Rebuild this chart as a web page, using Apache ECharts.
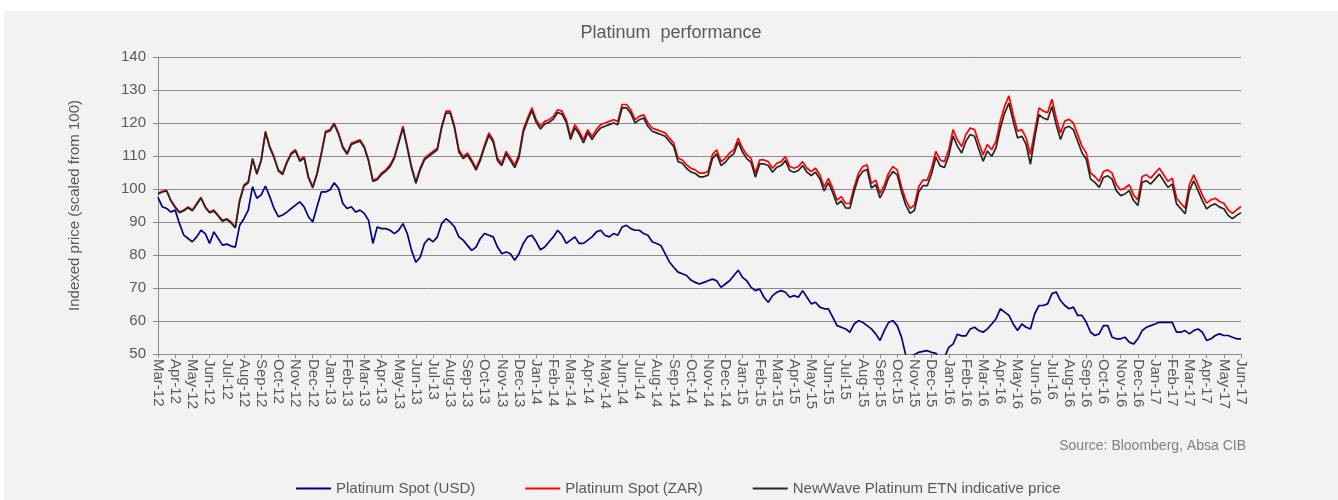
<!DOCTYPE html>
<html>
<head>
<meta charset="utf-8">
<title>Platinum performance</title>
<script src="https://cdn.jsdelivr.net/npm/echarts@6/dist/echarts.min.js"></script>
<style>
    html, body { margin: 0; padding: 0; background: #ffffff; }
    #wrap { position: relative; width: 1338px; height: 500px; overflow: hidden; }
    #chart { position: absolute; left: 4px; top: 11px; width: 1334px; height: 489px; background: #f2f2f2; }
</style>
</head>
<body>
<div id="wrap"><div id="chart"></div></div>
<script>
// month tick labels (one axis tick per month)
var months = [
    'Mar-12', 'Apr-12', 'May-12', 'Jun-12', 'Jul-12', 'Aug-12', 'Sep-12', 'Oct-12', 'Nov-12', 'Dec-12',
    'Jan-13', 'Feb-13', 'Mar-13', 'Apr-13', 'May-13', 'Jun-13', 'Jul-13', 'Aug-13', 'Sep-13', 'Oct-13', 'Nov-13', 'Dec-13',
    'Jan-14', 'Feb-14', 'Mar-14', 'Apr-14', 'May-14', 'Jun-14', 'Jul-14', 'Aug-14', 'Sep-14', 'Oct-14', 'Nov-14', 'Dec-14',
    'Jan-15', 'Feb-15', 'Mar-15', 'Apr-15', 'May-15', 'Jun-15', 'Jul-15', 'Aug-15', 'Sep-15', 'Oct-15', 'Nov-15', 'Dec-15',
    'Jan-16', 'Feb-16', 'Mar-16', 'Apr-16', 'May-16', 'Jun-16', 'Jul-16', 'Aug-16', 'Sep-16', 'Oct-16', 'Nov-16', 'Dec-16',
    'Jan-17', 'Feb-17', 'Mar-17', 'Apr-17', 'May-17', 'Jun-17'
];

// samples per month (roughly weekly)
var perMonth = 4;

// Platinum Spot (USD), indexed
var usd = [
    97.5, 94.6, 94.1, 93, 93.6, 89.5, 86, 85, 84, 85.5, 87.5, 86.5, 83.5, 87, 85, 83,
    83.3, 82.7, 82.4, 89, 91, 93.6, 100.7, 97.2, 98.2, 100.9, 97.7, 94.1, 91.6, 92.1, 93, 94.1,
    95.1, 96.1, 94.6, 91.6, 90, 94.6, 99.1, 99.1, 99.7, 101.9, 100.2, 95.6, 94.1, 94.6, 93, 93.6,
    92.6, 90.5, 83.5, 88.5, 88, 88, 87.5, 86.5, 87.5, 89.5, 86.5, 81.4, 77.8, 79.3, 83.5, 85,
    84, 85.5, 89.5, 91, 90, 88.5, 85.5, 84.5, 82.9, 81.4, 82.4, 85, 86.5, 86, 85.5, 82.4,
    80.4, 80.9, 80.4, 78.4, 80.4, 83.5, 85.5, 86, 84, 81.6, 82.4, 84, 85.5, 87.5, 86, 83.5,
    84.5, 85.5, 83.5, 83.5, 84.5, 85.5, 87, 87.5, 86, 85.5, 86.5, 86, 88.5, 89, 88, 87.5,
    87.5, 86.5, 86, 84, 83.5, 82.9, 80.4, 77.9, 76.3, 74.8, 74.3, 73.8, 72.4, 71.7, 71.2, 71.7,
    72.2, 72.7, 72.2, 70.2, 71.2, 72.2, 73.8, 75.4, 73.2, 72.2, 70.2, 69.2, 69.7, 67.2, 65.7, 67.7,
    68.7, 69.2, 68.7, 67.2, 67.7, 67.2, 69.2, 67.2, 65.2, 65.7, 64.2, 63.7, 63.7, 61.2, 58.6, 58.1,
    57.6, 56.6, 59.1, 60.1, 59.6, 58.6, 57.6, 56.1, 54.1, 57.1, 59.6, 60.1, 58.6, 55.1, 49.6, 49.3,
    49.8, 50.5, 50.8, 51, 50.5, 50.2, 48.5, 49, 52, 53, 56, 55.5, 55.5, 57.6, 58.1, 57.1,
    56.6, 57.6, 59.1, 60.7, 63.7, 62.7, 61.7, 59.1, 57.1, 59.1, 58.1, 57.6, 62.2, 64.7, 64.7, 65.2,
    68.3, 68.8, 66.2, 64.7, 63.7, 64.2, 61.7, 61.7, 59.6, 56.6, 55.6, 56.1, 58.6, 58.6, 55.1, 54.6,
    54.6, 55.1, 53.6, 53, 54.6, 57.1, 58.1, 58.6, 59.1, 59.6, 59.6, 59.6, 59.6, 56.6, 56.6, 57.1,
    56.1, 57.1, 57.6, 56.6, 54.1, 54.6, 55.6, 56.1, 55.6, 55.6, 55.1, 54.6, 54.6
];

// Platinum Spot (ZAR), indexed
var zar = [
    98.7, 99.3, 99.6, 96.6, 94.6, 93, 93.6, 94.6, 93.6, 95.6, 97.5, 94.6, 93, 93.6, 92, 90.5,
    91, 90, 88.5, 96.6, 101.2, 102.2, 109.3, 104.8, 108.8, 117.5, 112.9, 109.8, 105.8, 104.8, 108.3, 110.9,
    111.9, 108.8, 109.8, 103.8, 100.7, 104.8, 110.9, 117.5, 118, 120, 117, 112.9, 110.9, 113.9, 114.4, 114.9,
    112.9, 108.8, 102.7, 103.2, 104.8, 105.8, 107.3, 109.8, 114.4, 119, 112.9, 106.8, 102.2, 106.3, 109.3, 110.4,
    111.4, 112.4, 119, 123.6, 123.6, 119, 111.9, 109.8, 110.9, 108.8, 106.3, 109.3, 113.4, 117, 114.9, 109.3,
    107.8, 111.4, 109.3, 107.3, 110.4, 118, 121.5, 124.6, 121, 119, 120.5, 121, 122, 124, 123.6, 121,
    115.9, 119.5, 117.5, 114.9, 118, 115.9, 118, 119.5, 120, 120.5, 121, 120.5, 125.6, 125.6, 124, 121,
    122, 122.5, 120, 118.5, 118, 117.5, 117, 115.4, 113.9, 109.3, 108.8, 107.3, 106.3, 105.8, 104.8, 104.8,
    105.3, 110.4, 111.9, 108.3, 109.3, 110.9, 111.9, 115.4, 112.4, 110.4, 109.3, 104.8, 108.8, 108.8, 108.3, 106.3,
    107.8, 108.3, 109.8, 106.8, 106.3, 106.8, 108.3, 106.3, 105.3, 106.3, 104.3, 100.7, 103.2, 100.2, 96.6, 97.7,
    95.6, 95.6, 100.7, 104.8, 106.8, 107.3, 101.7, 102.7, 98.7, 101.2, 104.8, 106.8, 105.8, 100.7, 96.6, 94.1,
    95.1, 100.7, 102.7, 102.7, 106.3, 111.4, 108.8, 108.3, 111.9, 118, 114.9, 112.9, 116.5, 118.5, 118, 114,
    110.4, 113.5, 111.9, 114.5, 120.6, 125.1, 128.2, 122.6, 117.5, 118, 115.5, 110.5, 117.5, 124.6, 123.6, 123.1,
    127.2, 121.6, 117, 120.6, 121.1, 120, 116.5, 113, 110.9, 104.8, 103.8, 102.3, 105.3, 105.8, 104.8, 101.3,
    99.7, 100.3, 101.3, 98.2, 96.7, 103.8, 104.3, 103.3, 104.8, 106.3, 104.3, 102.3, 103.3, 97.2, 95.7, 94.2,
    101.3, 104.3, 101.3, 98.2, 95.7, 96.7, 97.2, 96.2, 95.7, 93.7, 92.6, 93.7, 94.7
];

// NewWave Platinum ETN indicative price, indexed
var etn = [
    98.5, 99.1, 99.4, 96.4, 94.4, 92.8, 93.4, 94.3, 93.4, 95.3, 97.2, 94.4, 92.8, 93.3, 91.8, 90.2,
    90.8, 89.7, 88.2, 96.3, 100.9, 101.9, 109, 104.5, 108.5, 117.1, 112.6, 109.5, 105.5, 104.4, 108, 110.6,
    111.5, 108.4, 109.4, 103.4, 100.3, 104.4, 110.5, 117.1, 117.6, 119.6, 116.6, 112.5, 110.5, 113.5, 114, 114.5,
    112.5, 108.4, 102.3, 102.8, 104.4, 105.4, 106.8, 109.3, 113.9, 118.5, 112.4, 106.3, 101.7, 105.8, 108.8, 109.9,
    110.9, 111.9, 118.5, 123, 123, 118.4, 111.3, 109.2, 110.3, 108.2, 105.7, 108.7, 112.7, 116.3, 114.2, 108.6,
    107.1, 110.7, 108.6, 106.5, 109.6, 117.2, 120.7, 123.8, 120.2, 118.2, 119.7, 120.2, 121.2, 123.2, 122.7, 120.2,
    115, 118.6, 116.6, 114, 117.1, 115, 117, 118.5, 119, 119.5, 120, 119.5, 124.6, 124.6, 123, 120,
    121, 121.5, 119, 117.5, 117, 116.5, 116, 114.4, 112.9, 108.3, 107.8, 106.2, 105.2, 104.7, 103.7, 103.7,
    104.2, 109.2, 110.7, 107.1, 108.1, 109.7, 110.7, 114.2, 111.2, 109.2, 108.1, 103.6, 107.6, 107.6, 107.1, 105.1,
    106.6, 107.1, 108.6, 105.6, 105.1, 105.6, 107.1, 105.1, 104.1, 105.1, 103.1, 99.4, 101.9, 98.9, 95.3, 96.4,
    94.3, 94.2, 99.4, 103.5, 105.4, 105.9, 100.3, 101.3, 97.3, 99.8, 103.4, 105.3, 104.3, 99.2, 95.1, 92.6,
    93.5, 99.1, 101, 101, 104.6, 109.6, 107, 106.5, 110.1, 116.1, 113, 110.9, 114.5, 116.5, 116, 112,
    108.4, 111.5, 109.9, 112.5, 118.5, 123, 126, 120.5, 115.5, 116, 113.5, 107.5, 115.5, 122.5, 121.5, 121,
    125, 119.5, 115, 118.5, 119, 118, 114.5, 111, 109, 103, 102, 100.5, 103.5, 104, 103, 99.5,
    98, 98.5, 99.5, 96.5, 95, 102, 102.5, 101.5, 103, 104.5, 102.5, 100.5, 101.5, 95.5, 94, 92.5,
    99.5, 102.5, 99.5, 96.5, 94, 95, 95.5, 94.5, 94, 92, 91, 92, 92.8
];

var seriesNames = ['Platinum Spot (USD)', 'Platinum Spot (ZAR)', 'NewWave Platinum ETN indicative price'];
var seriesColors = ['#000080', '#ff0000', '#262626'];

// one category per sample; every perMonth-th one carries the month label
var categories = [];
for (var i = 0; i < usd.length; i++) {
    var mi = Math.floor(i / perMonth);
    categories.push(months[mi] + '|' + (i % perMonth));
}

var textColor = '#595959';
var gridColor = '#8c8c8c';
var fontFamily = 'Arial, "Liberation Sans", sans-serif';

var myChart = echarts.init(document.getElementById('chart'), null, { renderer: 'canvas' });

var makeSeries = function (k, data) {
    return {
        name: seriesNames[k],
        type: 'line',
        data: data,
        symbol: 'none',
        smooth: false,
        animation: false,
        lineStyle: { color: seriesColors[k], width: 1.7 },
        itemStyle: { color: seriesColors[k] }
    };
};

var option = {
    backgroundColor: '#f2f2f2',
    animation: false,
    textStyle: { fontFamily: fontFamily },
    title: {
        text: 'Platinum  performance',
        left: 'center',
        top: 8,
        textStyle: { color: textColor, fontSize: 18, fontWeight: 'normal', fontFamily: fontFamily }
    },
    legend: {
        data: seriesNames,
        left: 287,
        top: 465,
        icon: 'rect',
        itemWidth: 35,
        itemHeight: 2,
        itemGap: 50,
        textStyle: { color: textColor, fontSize: 15, fontFamily: fontFamily }
    },
    graphic: [{
        type: 'text',
        right: 92,
        top: 428,
        style: {
            text: 'Source: Bloomberg, Absa CIB',
            fill: '#7f7f7f',
            font: '14px ' + fontFamily
        }
    }],
    grid: { left: 154, right: 97, top: 46, bottom: 146, containLabel: false },
    xAxis: {
        type: 'category',
        data: categories,
        boundaryGap: false,
        axisLine: { lineStyle: { color: gridColor } },
        axisTick: { show: true, interval: perMonth - 1, length: 4, lineStyle: { color: gridColor } },
        axisLabel: {
            interval: perMonth - 1,
            rotate: -90,
            margin: 5,
            color: textColor,
            fontSize: 15,
            fontFamily: fontFamily,
            formatter: function (v) { return v.split('|')[0]; }
        },
        splitLine: { show: false }
    },
    yAxis: {
        type: 'value',
        min: 50,
        max: 140,
        interval: 10,
        name: 'Indexed price (scaled from 100)',
        nameLocation: 'middle',
        nameRotate: 90,
        nameGap: 76,
        nameTextStyle: { color: textColor, fontSize: 15, fontFamily: fontFamily },
        axisLine: { show: true, lineStyle: { color: gridColor } },
        axisTick: { show: true, length: 5, lineStyle: { color: gridColor } },
        axisLabel: { color: textColor, fontSize: 15, margin: 12, fontFamily: fontFamily },
        splitLine: { lineStyle: { color: gridColor, width: 1 } }
    },
    series: [
        makeSeries(0, usd),
        makeSeries(1, zar),
        makeSeries(2, etn)
    ]
};

myChart.setOption(option);
</script>
</body>
</html>
